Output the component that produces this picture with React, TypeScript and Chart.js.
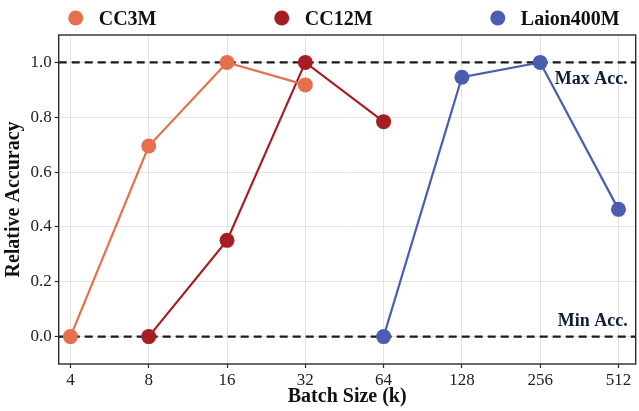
import React, { useEffect, useRef } from "react";
import { Chart, registerables } from "chart.js";

Chart.register(...registerables);

const batchSizes = ["4", "8", "16", "32", "64", "128", "256", "512"];
const cc3m: (number | null)[] = [0, 0.695, 1.0, 0.918, null, null, null, null];
const cc12m: (number | null)[] = [null, 0, 0.351, 1.0, 0.784, null, null, null];
const laion: (number | null)[] = [null, null, null, null, 0, 0.946, 1.0, 0.464];
const yTicks = [0, 0.2, 0.4, 0.6, 0.8, 1.0];
const seriesNames = ["CC3M", "CC12M", "Laion400M"];
const seriesColors = ["#E5704B", "#A71D24", "#4A5DB0"];
const refLines = [
  { value: 1.0, label: "Max Acc.", textValue: 0.94 },
  { value: 0.0, label: "Min Acc.", textValue: 0.055 },
];

const FONT = '"Liberation Serif", "Times New Roman", serif';

const toPoints = (arr: (number | null)[]) =>
  arr
    .map((v, i) => (v === null ? null : { x: i, y: v }))
    .filter((p) => p !== null) as { x: number; y: number }[];

const refLinePlugin = {
  id: "refLines",
  beforeDatasetsDraw(chart: any) {
    const { ctx, chartArea, scales } = chart;
    ctx.save();
    ctx.strokeStyle = "#1a1a1a";
    ctx.lineWidth = 2.4;
    ctx.setLineDash([8, 5]);
    refLines.forEach((r) => {
      const y = scales.y.getPixelForValue(r.value);
      ctx.beginPath();
      ctx.moveTo(chartArea.left, y);
      ctx.lineTo(chartArea.right, y);
      ctx.stroke();
    });
    ctx.restore();
  },
  afterDraw(chart: any) {
    const { ctx, chartArea, scales } = chart;
    ctx.save();
    ctx.fillStyle = "#0f1e3d";
    ctx.font = `bold 18px ${FONT}`;
    ctx.textAlign = "right";
    ctx.textBaseline = "middle";
    refLines.forEach((r) => {
      const y = scales.y.getPixelForValue(r.textValue);
      ctx.fillText(r.label, chartArea.right - 8, y);
    });
    ctx.strokeStyle = "#2b2b2b";
    ctx.lineWidth = 1.4;
    ctx.setLineDash([]);
    ctx.strokeRect(chartArea.left, chartArea.top, chartArea.right - chartArea.left, chartArea.bottom - chartArea.top);
    ctx.font = `bold 20px ${FONT}`;
    ctx.textAlign = "left";
    ctx.textBaseline = "alphabetic";
    const r = 7.5;
    const textOff = 23;
    const startX = chartArea.left + 17;
    const endX = chartArea.right - 16;
    const widths = seriesNames.map((n) => ctx.measureText(n).width + textOff);
    const total = widths.reduce((a: number, b: number) => a + b, 0);
    const gap = (endX - startX - total) / (seriesNames.length - 1);
    let x = startX;
    seriesNames.forEach((n, i) => {
      ctx.fillStyle = seriesColors[i];
      ctx.beginPath();
      ctx.arc(x, 18, r, 0, Math.PI * 2);
      ctx.fill();
      ctx.fillStyle = "#111";
      ctx.fillText(n, x + textOff, 25);
      x += widths[i] + gap;
    });
    ctx.restore();
  },
};

export default function App() {
  const ref = useRef<HTMLCanvasElement>(null);
  useEffect(() => {
    if (!ref.current) return;
    const datasets = [cc3m, cc12m, laion].map((arr, i) => ({
      label: seriesNames[i],
      data: toPoints(arr),
      borderColor: seriesColors[i],
      backgroundColor: seriesColors[i],
      pointBackgroundColor: seriesColors[i],
      pointBorderWidth: 0,
      pointRadius: 7.5,
      borderWidth: 2.2,
      showLine: true,
      tension: 0,
    }));
    const chart = new Chart(ref.current, {
      type: "scatter",
      data: { datasets },
      options: {
        animation: false,
        responsive: false,
        maintainAspectRatio: false,
        layout: { autoPadding: false, padding: { left: 0, right: 3.3, top: 35, bottom: 0 } },
        plugins: { legend: { display: false }, tooltip: { enabled: false } },
        scales: {
          x: {
            type: "linear",
            min: -0.15,
            max: 7.22,
            afterBuildTicks: (axis: any) => {
              axis.ticks = batchSizes.map((_, i) => ({ value: i }));
            },
            afterFit: (axis: any) => {
              axis.height = 47;
              axis.paddingLeft = 0;
              axis.paddingRight = 0;
            },
            ticks: {
              callback: (v: any) => batchSizes[v] ?? "",
              font: { family: FONT, size: 17 },
              color: "#222",
              padding: 2,
              maxRotation: 0,
            },
            grid: { color: "#e3e3e3", lineWidth: 1, tickColor: "#2b2b2b", tickLength: 4, tickWidth: 1.2 },
            border: { display: false },
            title: {
              display: true,
              text: "Batch Size (k)",
              font: { family: FONT, size: 20, weight: "bold" },
              color: "#111",
              padding: { top: 0, bottom: 2 },
            },
          },
          y: {
            type: "linear",
            min: -0.1,
            max: 1.1,
            afterBuildTicks: (axis: any) => {
              axis.ticks = yTicks.map((v) => ({ value: v }));
            },
            afterFit: (axis: any) => {
              axis.width = 58.7;
              axis.paddingTop = 0;
              axis.paddingBottom = 0;
            },
            ticks: {
              callback: (v: any) => Number(v).toFixed(1),
              font: { family: FONT, size: 17 },
              color: "#222",
              padding: 3,
            },
            grid: { color: "#e3e3e3", lineWidth: 1, tickColor: "#2b2b2b", tickLength: 4, tickWidth: 1.2 },
            border: { display: false },
            title: {
              display: true,
              text: "Relative Accuracy",
              font: { family: FONT, size: 20, weight: "bold" },
              color: "#111",
              padding: { top: 2, bottom: 0 },
            },
          },
        },
      },
      plugins: [refLinePlugin],
    });
    return () => chart.destroy();
  }, []);
  return (
    <div style={{ position: "fixed", left: 0, top: 0, width: 639, height: 411, background: "#fff" }}>
      <canvas ref={ref} width={639} height={411} style={{ width: 639, height: 411, display: "block" }} />
    </div>
  );
}
